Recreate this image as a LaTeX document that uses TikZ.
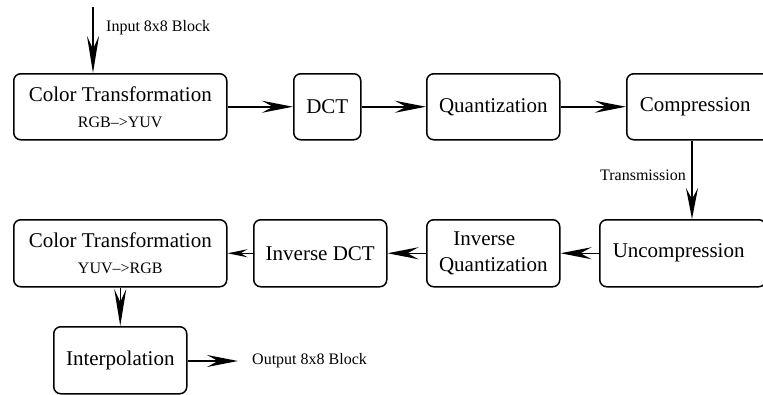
\documentclass[tikz,border=0pt]{standalone}
\usepackage{fontspec}
\setmainfont{Liberation Serif}
\usetikzlibrary{arrows.meta}
\tikzset{
  blk/.style={draw, line width=1.5pt, rounded corners=7pt, anchor=north west, inner sep=0pt,
    align=center, font=\fontsize{21}{26}\selectfont},
  openblk/.style={blk, align=left, inner xsep=13pt, text width=140pt},
  arr/.style={line width=1.5pt, -{Stealth[length=31pt,width=12pt,inset=11pt]}},
  arrlong/.style={line width=1.5pt, -{Stealth[length=37pt,width=12pt,inset=13pt]}},
  arrsmall/.style={line width=1.2pt, -{Stealth[length=20pt,width=8pt,inset=7pt]}},
  lbl/.style={font=\fontsize{16}{18}\selectfont, inner sep=0pt},
}
\newcommand{\smalltxt}[1]{{\fontsize{16}{26}\selectfont #1}}
\begin{document}
\begin{tikzpicture}[x=1pt,y=-1pt]
\useasboundingbox (0,0) rectangle (763,394);
\clip (0,0) rectangle (763,394);
% row 1
\node[blk, minimum width=213pt, minimum height=66pt] (ct1) at (13,73) {Color Transformation\\\smalltxt{RGB--{>}YUV}};
\node[blk, minimum width=67pt, minimum height=66pt] (dct) at (293,73) {DCT};
\node[blk, minimum width=133pt, minimum height=66pt] (quant) at (426,73) {Quantization};
\node[openblk, minimum height=66pt] (comp) at (626,73) {Compression};
% row 2
\node[blk, minimum width=213pt, minimum height=67pt] (ct2) at (13,219) {Color Transformation\\\smalltxt{YUV--{>}RGB}};
\node[blk, minimum width=133pt, minimum height=67pt] (idct) at (253,219) {Inverse DCT};
\node[blk, minimum width=133pt, minimum height=67pt] (iquant) at (426,219) {Inverse\hspace*{18pt}\\Quantization};
\node[openblk, minimum height=67pt] (uncomp) at (599,219) {Uncompression};
% row 3
\node[blk, minimum width=133pt, minimum height=67pt] (interp) at (53,326) {Interpolation};
% free ends
\coordinate (in) at (93,7);
\coordinate (tx) at (692,0);
\coordinate (out) at (238,361);
% labels
\node[lbl, anchor=west] (inlbl) at (106,28) {Input 8x8 Block};
\node[lbl, anchor=east] (txlbl) at (686,175) {Transmission};
\node[lbl, anchor=west] (outlbl) at (252,361) {Output 8x8 Block};
% connectors
\draw[arrlong] (in) -- (in |- ct1.north);
\draw[arr] (ct1.east) -- (dct.west);
\draw[arr] (dct.east) -- (quant.west);
\draw[arr] (quant.east) -- (comp.west);
\draw[arr] (comp.south -| tx) -- (uncomp.north -| tx);
\draw[arr] (uncomp.west) -- (iquant.east);
\draw[arr] (iquant.west) -- (idct.east);
\draw[arrsmall] (idct.west) -- (ct2.east);
\draw[arrlong] (ct2.south) -- (interp.north);
\draw[arr] (interp.east |- out) -- (out);
\end{tikzpicture}
\end{document}
